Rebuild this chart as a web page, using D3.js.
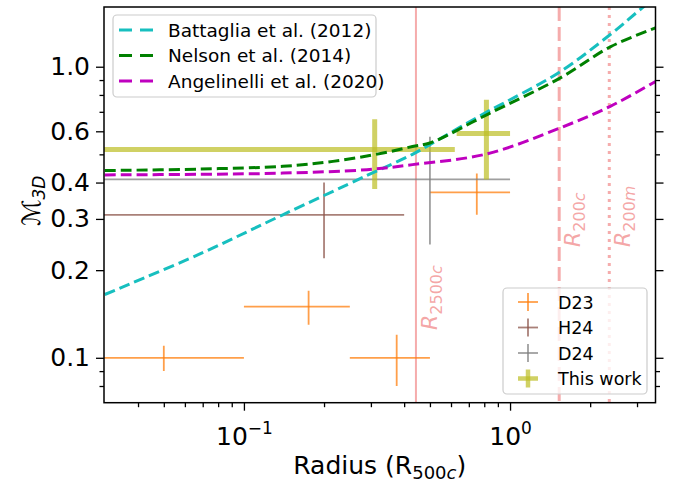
<!DOCTYPE html>
<html><head><meta charset="utf-8">
<script src="https://cdn.jsdelivr.net/npm/d3@7"></script>
<style>body{margin:0;background:#fff} svg{display:block;font-family:"DejaVu Sans",sans-serif}</style>
</head><body><svg id="c" width="673" height="485"></svg>
<script>
// ---- model curves (radius in R500c, Mach number) ----
const battagliaR = [0.03, 0.068, 0.14, 0.29, 0.43, 0.5, 0.82, 1.0, 1.54, 2.38, 3.13, 3.6];
const battagliaM = [0.165, 0.227, 0.31, 0.423, 0.50, 0.54, 0.70, 0.77, 0.96, 1.29, 1.59, 1.76];
const nelsonR = [0.03, 0.068, 0.14, 0.216, 0.333, 0.43, 0.5, 0.82, 1.54, 2.38, 3.52];
const nelsonM = [0.44, 0.445, 0.455, 0.473, 0.505, 0.532, 0.547, 0.685, 0.914, 1.17, 1.36];
const angelinelliR = [0.03, 0.068, 0.14, 0.29, 0.43, 0.82, 1.54, 2.38, 3.52];
const angelinelliM = [0.425, 0.427, 0.431, 0.443, 0.461, 0.502, 0.616, 0.731, 0.89];
const modelNames = ["Battaglia et al. (2012)", "Nelson et al. (2014)", "Angelinelli et al. (2020)"];

// ---- measurements ----
const d23R = [0.05, 0.175, 0.375, 0.75], d23Rerr = [0.05, 0.075, 0.125, 0.25];
const d23M = [0.1, 0.15, 0.1, 0.37], d23Merr = [0.01, 0.02, 0.02, 0.06];
const h24R = [0.2], h24Rerr = [0.2], h24M = [0.31], h24Merr = [0.09];
const d24R = [0.5], d24Rerr = [0.5], d24M = [0.41], d24Merr = [0.165];
const thisR = [0.31, 0.815], thisRerr = [0.31, 0.185], thisM = [0.52, 0.59], thisMerr = [0.14, 0.18];
const obsNames = ["D23", "H24", "D24", "This work"];

// ---- reference radii ----
const refR = [0.443, 1.53, 2.36];
const refSub = ["2500c", "200c", "200m"];

// ---- ticks ----
const xMajor = [0.1, 1];
const xMinor = [0.04, 0.05, 0.06, 0.07, 0.08, 0.09, 0.2, 0.3, 0.4, 0.5, 0.6, 0.7, 0.8, 0.9, 2, 3];
const xMajorExp = ["−1", "0"];
const yMajor = [0.1, 0.2, 0.3, 0.4, 0.6, 1.0];
const yMajorLabels = ["0.1", "0.2", "0.3", "0.4", "0.6", "1.0"];
const yMinor = [0.08, 0.09, 0.5, 0.7, 0.8, 0.9];

const W = 673, H = 485;
const m = {l: 104, t: 7, r: 17.5, b: 82.3};
const pw = W - m.l - m.r, ph = H - m.t - m.b;
const x = d3.scaleLog().domain([0.0298, 3.52]).range([0, pw]);
const y = d3.scaleLog().domain([0.0701, 1.604]).range([ph, 0]);

const svg = d3.select("#c");
svg.append("defs").append("clipPath").attr("id", "clip")
  .append("rect").attr("width", pw).attr("height", ph);
const g = svg.append("g").attr("transform", `translate(${m.l},${m.t})`);
const plot = g.append("g").attr("clip-path", "url(#clip)");

// reference vertical lines
const refColor = "#f08080";
const refDash = [null, "14,6", "3,5"];
const refWidth = [2, 3, 3];
refR.forEach((r, i) => {
  plot.append("line").attr("x1", x(r)).attr("x2", x(r)).attr("y1", 0).attr("y2", ph)
    .attr("stroke", refColor).attr("stroke-opacity", 0.65).attr("stroke-width", refWidth[i])
    .attr("stroke-dasharray", refDash[i]);
});

// errorbars
function errbars(R, Rerr, M, Merr, color, opacity, width) {
  const data = R.map((r, i) => ({r, re: Rerr[i], mm: M[i], me: Merr[i]}));
  const gg = plot.append("g").attr("stroke", color).attr("stroke-opacity", opacity).attr("stroke-width", width);
  data.forEach(d => {
    const lo = Math.max(d.r - d.re, 1e-3);
    gg.append("line").attr("x1", x(lo)).attr("x2", x(d.r + d.re)).attr("y1", y(d.mm)).attr("y2", y(d.mm));
    gg.append("line").attr("x1", x(d.r)).attr("x2", x(d.r)).attr("y1", y(d.mm - d.me)).attr("y2", y(d.mm + d.me));
  });
}
const obsColors = ["#ff7f0e", "#8c564b", "#7f7f7f", "#bcbd22"];
const obsOpac = [0.75, 0.75, 0.75, 0.7];
const obsWidth = [1.8, 1.8, 1.8, 5];
errbars(d23R, d23Rerr, d23M, d23Merr, obsColors[0], obsOpac[0], obsWidth[0]);
errbars(h24R, h24Rerr, h24M, h24Merr, obsColors[1], obsOpac[1], obsWidth[1]);
errbars(d24R, d24Rerr, d24M, d24Merr, obsColors[2], obsOpac[2], obsWidth[2]);
errbars(thisR, thisRerr, thisM, thisMerr, obsColors[3], obsOpac[3], obsWidth[3]);

// model curves
const modelColors = ["#17bfbf", "#008000", "#bf00bf"];
const models = [[battagliaR, battagliaM], [nelsonR, nelsonM], [angelinelliR, angelinelliM]];
const line = d3.line().x(d => x(d[0])).y(d => y(d[1])).curve(d3.curveCatmullRom.alpha(0.5));
models.forEach(([R, M], i) => {
  plot.append("path").datum(R.map((r, j) => [r, M[j]])).attr("d", line)
    .attr("fill", "none").attr("stroke", modelColors[i]).attr("stroke-width", 3)
    .attr("stroke-dasharray", "11,5");
});

// reference labels
const labelPos = [{r: 0.443, yb: 330, dx: 21}, {r: 1.53, yb: 247, dx: 21}, {r: 2.36, yb: 247, dx: 21}];
labelPos.forEach((p, i) => {
  const tx = m.l + x(p.r) + p.dx, ty = p.yb;
  const t = svg.append("text").attr("transform", `translate(${tx},${ty}) rotate(-90)`)
    .attr("fill", refColor).attr("fill-opacity", 0.7).attr("font-size", 22);
  t.append("tspan").attr("font-style", "italic").text("R");
  const sub = refSub[i];
  const num = sub.replace(/[a-z]/g, ""), let_ = sub.replace(/[0-9]/g, "");
  t.append("tspan").attr("font-size", 16).attr("dy", 5).text(num);
  t.append("tspan").attr("font-size", 16).attr("font-style", "italic").text(let_);
});

// axes
const axStyle = sel => {
  sel.select(".domain").remove();
  sel.selectAll(".tick line").attr("stroke", "#000").attr("stroke-width", 1.3);
};
g.append("g").attr("transform", `translate(0,${ph})`)
  .call(d3.axisBottom(x).tickValues(xMinor).tickSize(4.5).tickFormat("")).call(axStyle);
const xa = g.append("g").attr("transform", `translate(0,${ph})`)
  .call(d3.axisBottom(x).tickValues(xMajor).tickSize(8).tickPadding(6).tickFormat("")).call(axStyle);
xa.selectAll(".tick text").each(function(d, i) {
  const t = d3.select(this).attr("font-size", 25).attr("fill", "#000").attr("font-family", "DejaVu Sans").attr("dy", "1.15em");
  t.text("10");
  t.append("tspan").attr("font-size", 17).attr("dy", "-0.7em").text(xMajorExp[i]);
});
g.append("g").call(d3.axisLeft(y).tickValues(yMinor).tickSize(4.5).tickFormat("")).call(axStyle);
g.append("g").call(d3.axisLeft(y).tickValues(yMajor).tickSize(8).tickPadding(6)
  .tickFormat((d, i) => yMajorLabels[i])).call(axStyle)
  .selectAll(".tick text").attr("font-size", 25).attr("fill", "#000").attr("font-family", "DejaVu Sans");
g.append("g").attr("transform", `translate(${pw},0)`)
  .call(d3.axisRight(y).tickValues(yMinor).tickSize(4.5).tickFormat("")).call(axStyle);
g.append("g").attr("transform", `translate(${pw},0)`)
  .call(d3.axisRight(y).tickValues(yMajor).tickSize(8).tickFormat("")).call(axStyle);

g.append("rect").attr("width", pw).attr("height", ph).attr("fill", "none")
  .attr("stroke", "#000").attr("stroke-width", 1.5);

// axis labels
const xl = svg.append("text").attr("x", m.l + pw / 2).attr("y", 474).attr("text-anchor", "middle")
  .attr("font-size", 25).attr("fill", "#000");
xl.append("tspan").text("Radius (R");
xl.append("tspan").attr("font-size", 18).attr("dy", 5).text("500");
xl.append("tspan").attr("font-size", 18).attr("font-style", "italic").text("c");
xl.append("tspan").attr("dy", -5).text(")");

const yl = svg.append("text").attr("transform", "translate(40,201) rotate(-90)").attr("text-anchor", "middle")
  .attr("font-size", 25).attr("fill", "#000");
yl.append("tspan").attr("font-style", "italic").text("ℳ");
yl.append("tspan").attr("font-size", 17).attr("font-style", "italic").attr("dy", 5).text("3D");

// legend 1 (models)
const lg1 = svg.append("g");
lg1.append("rect").attr("x", 113).attr("y", 15).attr("width", 263).attr("height", 82).attr("rx", 4)
  .attr("fill", "#fff").attr("fill-opacity", 0.8).attr("stroke", "#ccc").attr("stroke-width", 1.2);
modelNames.forEach((n, i) => {
  const yy = 30 + i * 25.5;
  lg1.append("line").attr("x1", 119).attr("x2", 153).attr("y1", yy).attr("y2", yy)
    .attr("stroke", modelColors[i]).attr("stroke-width", 3).attr("stroke-dasharray", "13,8");
  lg1.append("text").attr("x", 168).attr("y", yy + 6.5).attr("font-size", 18.5).attr("fill", "#000").text(n);
});

// legend 2 (observations)
const lg2 = svg.append("g");
lg2.append("rect").attr("x", 503).attr("y", 288).attr("width", 144).attr("height", 106).attr("rx", 4)
  .attr("fill", "#fff").attr("fill-opacity", 0.8).attr("stroke", "#ccc").attr("stroke-width", 1.2);
obsNames.forEach((n, i) => {
  const yy = 302 + i * 25.5, cx = 528;
  const gg = lg2.append("g").attr("stroke", obsColors[i]).attr("stroke-opacity", obsOpac[i]).attr("stroke-width", obsWidth[i] > 3 ? 4.5 : 1.8);
  gg.append("line").attr("x1", cx - 10).attr("x2", cx + 10).attr("y1", yy).attr("y2", yy);
  gg.append("line").attr("x1", cx).attr("x2", cx).attr("y1", yy - 9).attr("y2", yy + 9);
  lg2.append("text").attr("x", 558).attr("y", yy + 6.5).attr("font-size", 17.5).attr("fill", "#000").text(n);
});
</script></body></html>
